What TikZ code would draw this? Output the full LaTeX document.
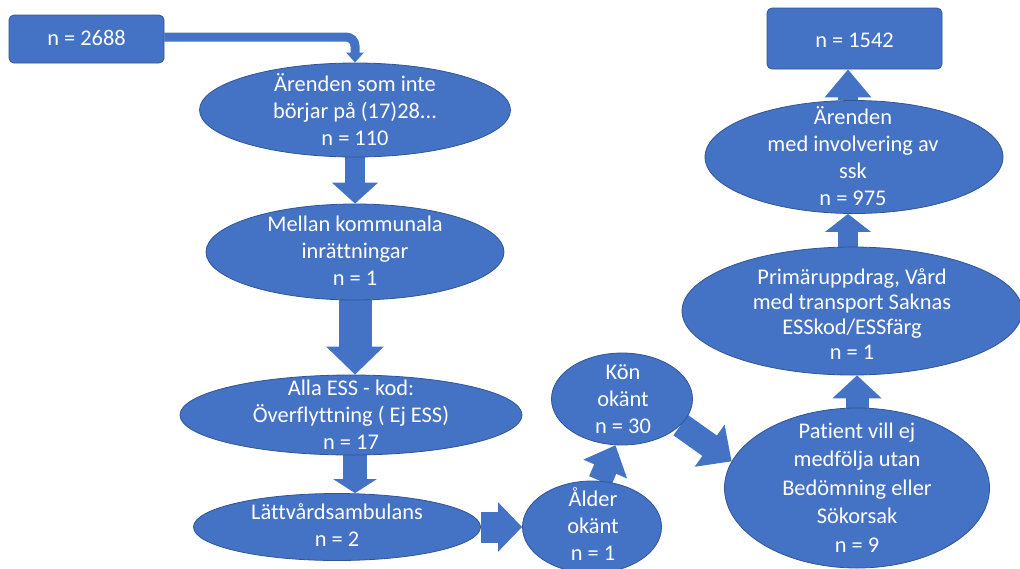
\documentclass[tikz,border=0pt]{standalone}
\usepackage{fontspec}
\setmainfont{Carlito}[Ligatures=NoCommon]
\usetikzlibrary{shapes.geometric,arrows.meta}
\definecolor{ofblue}{HTML}{4472C4}
\definecolor{ofline}{HTML}{2F5597}
\pgfdeclarelayer{bg}
\pgfsetlayers{bg,main}
\newcommand\lns[1]{\begin{tabular}{@{}c@{}}#1\end{tabular}}
\tikzset{
  shp/.style={fill=ofblue, draw=ofline, line width=0.8pt},
  ell/.style={shp, ellipse, inner sep=0pt},
  rbox/.style={shp, rectangle, rounded corners=5pt, inner sep=0pt},
  txt/.style={text=white, inner sep=0pt, font=\fontsize{22.4pt}{27pt}\selectfont},
  blk/.style={draw=ofblue, line cap=butt},
}
\begin{document}
\begin{tikzpicture}[x=1pt,y=-1pt]
\useasboundingbox (0,0) rectangle (1020,568);
% boxes
\node[rbox, minimum width=155pt, minimum height=48pt] (a) at (86.5,39) {};
\node[rbox, minimum width=175pt, minimum height=61pt] (b) at (854.5,38.5) {};
% ellipses
\node[ell, minimum width=311pt, minimum height=94pt] (e1) at (355,110) {};
\node[ell, minimum width=298pt, minimum height=96pt] (e2) at (355,252) {};
\node[ell, minimum width=342pt, minimum height=80pt] (e3) at (351,415) {};
\node[ell, minimum width=287pt, minimum height=67pt] (e4) at (337,527) {};
\node[ell, minimum width=139pt, minimum height=92pt] (e5) at (592,527) {};
\node[ell, minimum width=141pt, minimum height=92pt] (e6) at (622,399) {};
\node[ell, minimum width=265pt, minimum height=160pt] (e7) at (857,488) {};
\node[ell, minimum width=340pt, minimum height=128pt] (e8) at (852,311) {};
\node[ell, minimum width=298pt, minimum height=113pt] (e9) at (854,157) {};
% texts
\node[txt] (at) at (86.5,39.6) {\lns{n = 2688}};
\node[txt] (bt) at (854.5,41.6) {\lns{n = 1542}};
\node[txt] (e1t) at (355,112.6) {\lns{Ärenden som inte\\börjar på (17)28...\\n = 110}};
\node[txt] (e2t) at (355,253) {\lns{Mellan kommunala\\inrättningar\\n = 1}};
\node[txt] (e3t) at (351,417) {\lns{Alla ESS - kod:\\Överflyttning ( Ej ESS)\\n = 17}};
\node[txt] (e4t) at (337,528) {\lns{Lättvårdsambulans\\n = 2}};
\node[txt] (e5t) at (593,528) {\lns{Ålder\\okänt\\n = 1}};
\node[txt] (e6t) at (623,401) {\lns{Kön\\okänt\\n = 30}};
\node[txt, font=\fontsize{22.4pt}{28.5pt}\selectfont] (e7t) at (857,489.5) {\lns{Patient vill ej\\medfölja utan\\Bedömning eller\\Sökorsak\\n = 9}};
\node[txt, font=\fontsize{22.4pt}{25pt}\selectfont] (e8t) at (852,316.5) {\lns{Primäruppdrag, Vård\\med transport Saknas\\ESSkod/ESSfärg\\n = 1}};
\node[txt] (e9t) at (853,159.6) {\lns{Ärenden\\med involvering av\\ssk\\n = 975}};
% connectors
\begin{pgfonlayer}{bg}
\fill[white] (0,0) rectangle (1020,568);
\draw[blk, line width=9pt, rounded corners=9pt, -{Triangle[length=10pt,width=17pt]}]
  ([yshift=2pt]a.east) -- ([yshift=2pt]a.east -| e1.north) -- (e1.north);
\draw[blk, line width=20pt, -{Triangle[length=21pt,width=45pt]}] (e1.south) -- (e2.north);
\draw[blk, line width=33pt, -{Triangle[length=28pt,width=56pt]}] (e2.south) -- (e2.south |- e3.north);
\draw[blk, line width=24pt, -{Triangle[length=14pt,width=43pt]}] ([xshift=4pt]e3.south) -- ([xshift=4pt]e3.south |- e4.north);
\draw[blk, line width=31pt, -{Triangle[length=24pt,width=48pt]}] (e4.east) -- (e5.west);
\draw[blk, line width=24pt, -{Triangle[length=26pt,width=46pt]}] (e5.80) -- (e6.-98);
\draw[blk, line width=25pt, -{Triangle[length=27pt,width=50pt]}] (e6.-24) -- (e7.168);
\draw[blk, line width=23pt, -{Triangle[length=23pt,width=48pt]}] (e7.north) -- (e7.north |- e8.south);
\draw[blk, line width=20pt, -{Triangle[length=18pt,width=45pt]}] ([xshift=-4pt]e8.north) -- ([xshift=-4pt]e8.north |- e9.south);
\draw[blk, line width=20pt, -{Triangle[length=28pt,width=45pt]}] ([xshift=-6pt]e9.north) -- ([xshift=-6pt]e9.north |- b.south);
\end{pgfonlayer}
\end{tikzpicture}
\end{document}
